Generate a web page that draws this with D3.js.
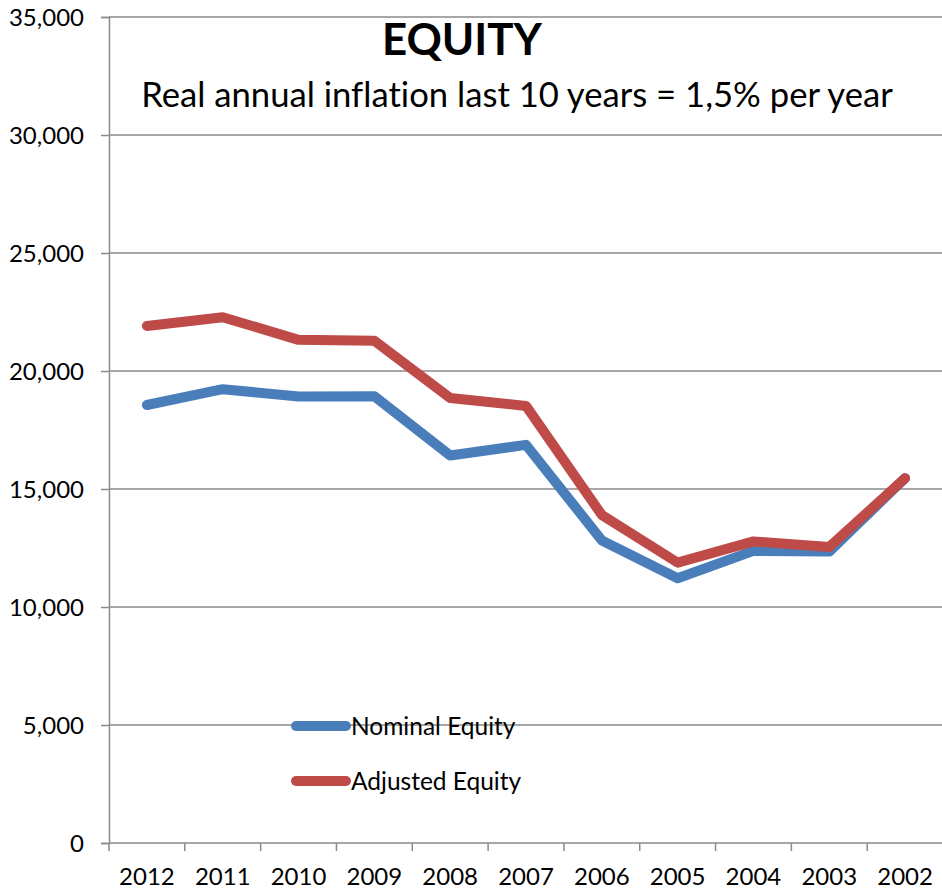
<!DOCTYPE html>
<html>
<head>
<meta charset="utf-8">
<script src="https://cdn.jsdelivr.net/npm/d3@7"></script>
<style>
  body { margin: 0; background: #fff; }
  text { font-family: Lato, "Open Sans", sans-serif; fill: #000; font-variant-ligatures: none; }
</style>
</head>
<body>
<div id="chart"></div>
<script>
// data
const years = ["2012", "2011", "2010", "2009", "2008", "2007", "2006", "2005", "2004", "2003", "2002"];
const nominalEquity = [18560, 19230, 18920, 18930, 16420, 16870, 12820, 11220, 12380, 12350, 15460];
const adjustedEquity = [21910, 22280, 21320, 21280, 18860, 18520, 13900, 11880, 12780, 12540, 15460];
const yTicks = [0, 5000, 10000, 15000, 20000, 25000, 30000, 35000];
const seriesNames = ["Nominal Equity", "Adjusted Equity"];
const seriesColors = ["#4a7ebb", "#be4b48"];

const config = {
  width: 942,
  height: 891,
  margin: { top: 17, right: 0, bottom: 48, left: 109 },
};

const svg = d3.select("#chart")
  .append("svg")
  .attr("width", config.width)
  .attr("height", config.height);

const innerW = config.width - config.margin.left - config.margin.right;
const innerH = config.height - config.margin.top - config.margin.bottom;

const chart = svg.append("g")
  .attr("transform", `translate(${config.margin.left},${config.margin.top})`);

const x = d3.scaleBand().domain(years).range([0, innerW + 1]);
const y = d3.scaleLinear().domain([0, 35000]).range([innerH, 0]);

// gridlines
chart.append("g")
  .selectAll("line")
  .data(yTicks.filter(d => d > 0))
  .join("line")
  .attr("x1", 0)
  .attr("x2", innerW)
  .attr("y1", d => y(d))
  .attr("y2", d => y(d))
  .attr("stroke", "#8a8a8a")
  .attr("stroke-width", 1.5);

// y axis
const yAxis = chart.append("g")
  .call(d3.axisLeft(y).tickValues(yTicks).tickSize(8).tickPadding(17)
    .tickFormat(d3.format(",")));
yAxis.select(".domain").attr("stroke", "#8a8a8a").attr("stroke-width", 1.5);
yAxis.selectAll(".tick line").attr("stroke", "#8a8a8a").attr("stroke-width", 1.5);
yAxis.selectAll(".tick text")
  .attr("font-family", "Lato")
  .attr("font-size", 24)
  .attr("dy", "0.36em");

// x axis with ticks on band edges
const xAxisG = chart.append("g").attr("transform", `translate(0,${innerH})`);
xAxisG.append("line")
  .attr("x1", 0).attr("x2", innerW)
  .attr("stroke", "#8a8a8a").attr("stroke-width", 1.5);
xAxisG.selectAll("line.edge")
  .data(years)
  .join("line")
  .attr("class", "edge")
  .attr("x1", d => x(d)).attr("x2", d => x(d))
  .attr("y1", 0).attr("y2", 8)
  .attr("stroke", "#8a8a8a").attr("stroke-width", 1.5);
xAxisG.selectAll("text")
  .data(years)
  .join("text")
  .attr("x", d => x(d) + x.bandwidth() / 2)
  .attr("y", 42)
  .attr("text-anchor", "middle")
  .attr("font-size", 24)
  .text(d => d);

// lines
const line = d3.line()
  .x((d, i) => x(years[i]) + x.bandwidth() / 2)
  .y(d => y(d));

[nominalEquity, adjustedEquity].forEach((series, i) => {
  chart.append("path")
    .datum(series)
    .attr("d", line)
    .attr("fill", "none")
    .attr("stroke", seriesColors[i])
    .attr("stroke-width", 10)
    .attr("stroke-linejoin", "round")
    .attr("stroke-linecap", "round");
});

// legend
const legend = svg.append("g").attr("transform", "translate(296,726)");
const legendItems = legend.selectAll("g")
  .data(seriesNames)
  .join("g")
  .attr("transform", (d, i) => `translate(0,${i * 55})`);
legendItems.append("line")
  .attr("x1", 0).attr("x2", 50)
  .attr("stroke", (d, i) => seriesColors[i])
  .attr("stroke-width", 10)
  .attr("stroke-linecap", "round");
legendItems.append("text")
  .attr("x", 55)
  .attr("dy", "0.36em")
  .attr("font-size", 24.5)
  .text(d => d);

// titles, sized to the reference widths
function fitText(sel, targetW) {
  const w = sel.node().getComputedTextLength();
  const fs = parseFloat(sel.attr("font-size"));
  sel.attr("font-size", fs * targetW / w);
}

const title = svg.append("text")
  .attr("x", 462)
  .attr("y", 55)
  .attr("text-anchor", "middle")
  .attr("font-weight", "bold")
  .attr("font-size", 44)
  .text("EQUITY");
fitText(title, 160);

const subtitle = svg.append("text")
  .attr("x", 517)
  .attr("y", 107)
  .attr("text-anchor", "middle")
  .attr("font-size", 32)
  .text("Real annual inflation last 10 years = 1,5% per year");
fitText(subtitle, 752);
</script>
</body>
</html>
